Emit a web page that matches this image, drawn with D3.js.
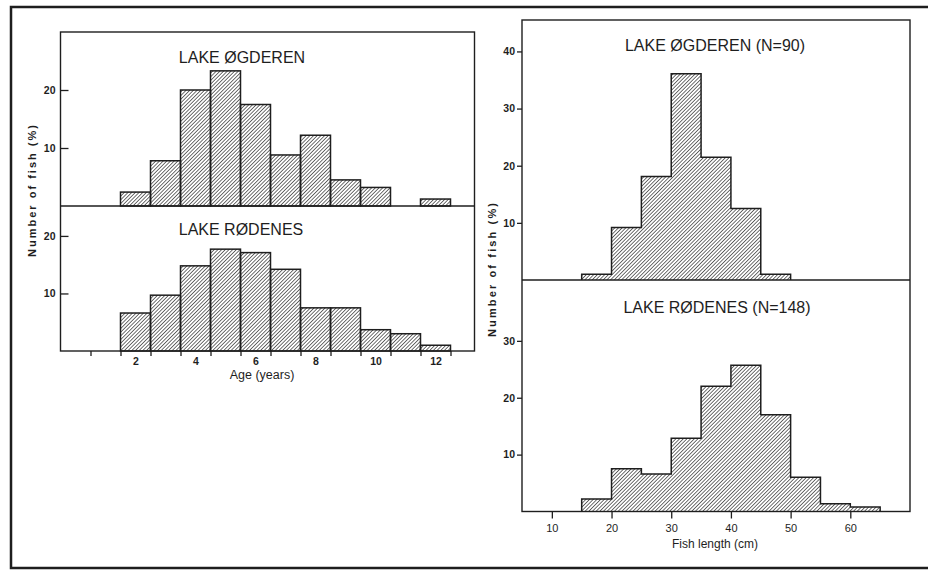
<!DOCTYPE html>
<html>
<head>
<meta charset="utf-8">
<script src="https://cdn.jsdelivr.net/npm/d3@7"></script>
<style>
  body { margin: 0; background: #fff; }
  svg text { font-family: "Liberation Sans", Arial, sans-serif; fill: #1e1e1e; }
</style>
</head>
<body>
<div class="container"></div>
<script>
// age distribution (% of fish), one bar per year class
let ages = [2, 3, 4, 5, 6, 7, 8, 9, 10, 11, 12];
let ogderenAge = [2.4, 7.8, 20, 23.3, 17.5, 8.8, 12.2, 4.5, 3.2, 0, 1.2];
let rodenesAge = [6.6, 9.7, 14.8, 17.7, 17.1, 14.2, 7.5, 7.5, 3.7, 3.0, 1.0];
let ageTicks = [2, 4, 6, 8, 10, 12];

// length distribution (% of fish), 5 cm classes starting at these values
let lengthBins = [15, 20, 25, 30, 35, 40, 45, 50, 55, 60];
let ogderenLen = [1.0, 9.2, 18.1, 36.1, 21.5, 12.5, 1.0, 0, 0, 0];
let rodenesLen = [2.2, 7.5, 6.6, 12.9, 22.0, 25.7, 17.0, 6.0, 1.35, 0.8];
let lengthTicks = [10, 20, 30, 40, 50, 60];

let ink = "#1e1e1e";

let svg = d3.select(".container")
    .append("svg")
    .attr("width", 928)
    .attr("height", 570);

// hatch
let defs = svg.append("defs");
defs.append("pattern")
    .attr("id", "hatch")
    .attr("patternUnits", "userSpaceOnUse")
    .attr("width", 2.6)
    .attr("height", 2.6)
    .attr("patternTransform", "rotate(45)")
    .append("line")
    .attr("x1", 0).attr("y1", 0)
    .attr("x2", 0).attr("y2", 2.6)
    .attr("stroke", "#222")
    .attr("stroke-width", 1.3);

// outer frame
svg.append("rect")
    .attr("x", 11).attr("y", 7)
    .attr("width", 930).attr("height", 561)
    .attr("fill", "none")
    .attr("stroke", ink)
    .attr("stroke-width", 2.5);

// ---------- left: age ----------
let xAge = d3.scaleLinear().domain([-0.5, 13.3]).range([60.5, 474.5]);
let yAgeTop = d3.scaleLinear().domain([0, 30]).range([206, 32]);
let yAgeBot = d3.scaleLinear().domain([0, 25.2]).range([351, 206]);

const ageBars = (vals, y) => {
    svg.append("g")
        .selectAll("rect")
        .data(ages.map((a, i) => ({a: a, v: vals[i]})).filter(d => d.v > 0))
        .enter()
        .append("rect")
        .attr("x", d => xAge(d.a - 0.5))
        .attr("width", d => xAge(d.a + 0.5) - xAge(d.a - 0.5))
        .attr("y", d => y(d.v))
        .attr("height", d => y(0) - y(d.v))
        .attr("fill", "url(#hatch)")
        .attr("stroke", ink)
        .attr("stroke-width", 1.5);
}
ageBars(ogderenAge, yAgeTop);
ageBars(rodenesAge, yAgeBot);

// box + divider
svg.append("rect")
    .attr("x", xAge.range()[0]).attr("y", yAgeTop.range()[1])
    .attr("width", xAge.range()[1] - xAge.range()[0])
    .attr("height", yAgeBot(0) - yAgeTop.range()[1])
    .attr("fill", "none").attr("stroke", ink).attr("stroke-width", 1.4);
svg.append("line")
    .attr("x1", xAge.range()[0]).attr("x2", xAge.range()[1])
    .attr("y1", yAgeTop(0)).attr("y2", yAgeTop(0))
    .attr("stroke", ink).attr("stroke-width", 1.6);

const leftAxis = (y, vals) => {
    let g = svg.append("g")
        .attr("transform", "translate(" + xAge.range()[0] + ",0)")
        .call(d3.axisLeft(y).tickValues(vals).tickSizeInner(-8).tickSizeOuter(0).tickPadding(5));
    g.select(".domain").remove();
    g.selectAll("line").attr("stroke", ink).attr("stroke-width", 1.3);
    g.selectAll("text").attr("font-size", 10.5).attr("font-weight", "bold").attr("fill", ink);
}
leftAxis(yAgeTop, [10, 20]);
leftAxis(yAgeBot, [10, 20]);

// bottom: ticks at class edges, labels at even ages
let edges = d3.range(0.5, 13, 1);
let gEdge = svg.append("g")
    .attr("transform", "translate(0," + yAgeBot(0) + ")")
    .call(d3.axisBottom(xAge).tickValues(edges).tickFormat("").tickSizeInner(5).tickSizeOuter(0));
gEdge.select(".domain").remove();
gEdge.selectAll("line").attr("stroke", ink).attr("stroke-width", 1.3);

let gAgeLab = svg.append("g")
    .attr("transform", "translate(0," + yAgeBot(0) + ")")
    .call(d3.axisBottom(xAge).tickValues(ageTicks).tickSize(0).tickPadding(7));
gAgeLab.select(".domain").remove();
gAgeLab.selectAll("text").attr("font-size", 10.5).attr("font-weight", "bold").attr("fill", ink);

svg.append("text")
    .attr("x", 262).attr("y", 379)
    .attr("text-anchor", "middle")
    .attr("font-size", 12.5)
    .text("Age (years)");

svg.append("text")
    .attr("x", 242).attr("y", 63)
    .attr("text-anchor", "middle")
    .attr("font-size", 16)
    .text("LAKE ØGDEREN");
svg.append("text")
    .attr("x", 241).attr("y", 235)
    .attr("text-anchor", "middle")
    .attr("font-size", 16)
    .text("LAKE RØDENES");

svg.append("text")
    .attr("transform", "translate(36,191) rotate(-90)")
    .attr("text-anchor", "middle")
    .attr("font-size", 11)
    .attr("font-weight", "bold")
    .attr("textLength", 132)
    .attr("lengthAdjust", "spacing")
    .text("Number of fish (%)");

// ---------- right: length ----------
let xLen = d3.scaleLinear().domain([5, 70]).range([522, 910]);
let yLenTop = d3.scaleLinear().domain([0, 45.5]).range([280, 20]);
let yLenBot = d3.scaleLinear().domain([0, 40.7]).range([511.5, 280]);

const lenHist = (vals, y) => {
    let last = lengthBins.length - 1;
    while (last > 0 && vals[last] === 0) last--;
    let pts = [[lengthBins[0], 0]];
    for (let i = 0; i <= last; i++) {
        pts.push([lengthBins[i], vals[i]]);
        pts.push([lengthBins[i] + 5, vals[i]]);
    }
    pts.push([lengthBins[last] + 5, 0]);

    svg.append("path")
        .datum(pts)
        .attr("d", d3.area().x(d => xLen(d[0])).y0(y(0)).y1(d => y(d[1])))
        .attr("fill", "url(#hatch)");
    svg.append("path")
        .datum(pts)
        .attr("d", d3.line().x(d => xLen(d[0])).y(d => y(d[1])))
        .attr("fill", "none")
        .attr("stroke", ink)
        .attr("stroke-width", 1.5);
}
lenHist(ogderenLen, yLenTop);
lenHist(rodenesLen, yLenBot);

svg.append("rect")
    .attr("x", xLen.range()[0]).attr("y", yLenTop.range()[1])
    .attr("width", xLen.range()[1] - xLen.range()[0])
    .attr("height", yLenBot(0) - yLenTop.range()[1])
    .attr("fill", "none").attr("stroke", ink).attr("stroke-width", 1.4);
svg.append("line")
    .attr("x1", xLen.range()[0]).attr("x2", xLen.range()[1])
    .attr("y1", yLenTop(0)).attr("y2", yLenTop(0))
    .attr("stroke", ink).attr("stroke-width", 1.6);

const rightAxis = (y, vals) => {
    let g = svg.append("g")
        .attr("transform", "translate(" + xLen.range()[0] + ",0)")
        .call(d3.axisLeft(y).tickValues(vals).tickSizeInner(5).tickSizeOuter(0).tickPadding(2));
    g.select(".domain").remove();
    g.selectAll("line").attr("stroke", ink).attr("stroke-width", 1.3);
    g.selectAll("text").attr("font-size", 10.5).attr("font-weight", "bold").attr("fill", ink);
}
rightAxis(yLenTop, [10, 20, 30, 40]);
rightAxis(yLenBot, [10, 20, 30]);

let gLen = svg.append("g")
    .attr("transform", "translate(0," + yLenBot(0) + ")")
    .call(d3.axisBottom(xLen).tickValues(lengthTicks).tickSizeInner(7).tickSizeOuter(0).tickPadding(6));
gLen.select(".domain").remove();
gLen.selectAll("line").attr("stroke", ink).attr("stroke-width", 1.3);
gLen.selectAll("text").attr("font-size", 11).attr("fill", ink);

svg.append("text")
    .attr("x", 715).attr("y", 548)
    .attr("text-anchor", "middle")
    .attr("font-size", 12)
    .text("Fish length (cm)");

svg.append("text")
    .attr("x", 715).attr("y", 51)
    .attr("text-anchor", "middle")
    .attr("font-size", 16)
    .text("LAKE ØGDEREN (N=90)");
svg.append("text")
    .attr("x", 717).attr("y", 313)
    .attr("text-anchor", "middle")
    .attr("font-size", 16)
    .text("LAKE RØDENES (N=148)");

svg.append("text")
    .attr("transform", "translate(496,270) rotate(-90)")
    .attr("text-anchor", "middle")
    .attr("font-size", 11)
    .attr("font-weight", "bold")
    .attr("textLength", 134)
    .attr("lengthAdjust", "spacing")
    .text("Number of fish (%)");
</script>
</body>
</html>
